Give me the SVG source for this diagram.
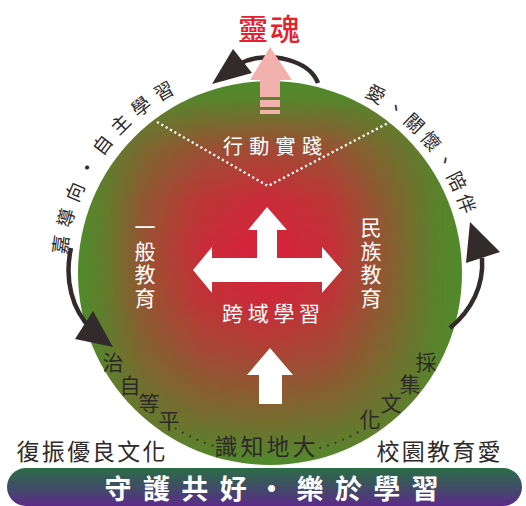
<svg xmlns="http://www.w3.org/2000/svg" width="526" height="506" viewBox="0 0 526 506">
<style>
text{font-family:"Noto Sans CJK TC","Noto Sans CJK SC",sans-serif;text-anchor:middle;dominant-baseline:central}
.w{fill:#fff;font-size:21px}
.d{fill:#2e2a2a;font-size:21px}
.arc{fill:#2e2a2a;font-size:19px}
.lbl{fill:#2e2a2a;font-size:23px}
.cv{fill:none;stroke:#332b2b;stroke-width:4.5}
.ah{fill:#332b2b}
.dots{fill:none;stroke:#333;stroke-width:2;stroke-linecap:round;stroke-dasharray:0.1 8}
.vdots{fill:none;stroke:#fff;stroke-width:2.3;stroke-dasharray:2.2 2.8}
</style>
<defs>
<linearGradient id="gh" gradientUnits="userSpaceOnUse" x1="78" y1="0" x2="462" y2="0">
<stop offset="0" stop-color="#fff" stop-opacity="0"/>
<stop offset="0.06" stop-color="#fff" stop-opacity="0.12"/>
<stop offset="0.176" stop-color="#fff" stop-opacity="0.55"/>
<stop offset="0.32" stop-color="#fff" stop-opacity="0.88"/>
<stop offset="0.49" stop-color="#fff" stop-opacity="1"/>
<stop offset="0.655" stop-color="#fff" stop-opacity="0.88"/>
<stop offset="0.772" stop-color="#fff" stop-opacity="0.55"/>
<stop offset="0.92" stop-color="#fff" stop-opacity="0.12"/>
<stop offset="1" stop-color="#fff" stop-opacity="0"/>
</linearGradient>
<linearGradient id="gv" gradientUnits="userSpaceOnUse" x1="0" y1="82" x2="0" y2="465">
<stop offset="0" stop-color="#fff" stop-opacity="0"/>
<stop offset="0.047" stop-color="#fff" stop-opacity="0.08"/>
<stop offset="0.177" stop-color="#fff" stop-opacity="0.62"/>
<stop offset="0.307" stop-color="#fff" stop-opacity="0.9"/>
<stop offset="0.44" stop-color="#fff" stop-opacity="1"/>
<stop offset="0.568" stop-color="#fff" stop-opacity="0.92"/>
<stop offset="0.698" stop-color="#fff" stop-opacity="0.7"/>
<stop offset="0.828" stop-color="#fff" stop-opacity="0.42"/>
<stop offset="0.958" stop-color="#fff" stop-opacity="0.1"/>
<stop offset="1" stop-color="#fff" stop-opacity="0"/>
</linearGradient>
<mask id="mh" maskUnits="userSpaceOnUse" x="0" y="0" width="526" height="506"><rect width="526" height="506" fill="url(#gh)"/></mask>
<mask id="mv" maskUnits="userSpaceOnUse" x="0" y="0" width="526" height="506"><rect width="526" height="506" fill="url(#gv)"/></mask>
<linearGradient id="band" x1="0" y1="0" x2="0" y2="1">
<stop offset="0" stop-color="#2b6d45"/>
<stop offset="0.5" stop-color="#3f4d66"/>
<stop offset="1" stop-color="#5c2b88"/>
</linearGradient>
</defs>

<g id="circle">
<circle cx="270" cy="273" r="192" fill="#4f8b2b"/>
<g mask="url(#mv)"><g mask="url(#mh)"><circle cx="270" cy="273" r="192" fill="#d9203b"/></g></g>
</g>

<g id="connectors">
<path class="vdots" d="M157,122 L268,186 L390,122"/>
<path class="dots" d="M175.7,428.5 A181,181 0 0 0 214.1,446.1"/>
<path class="dots" d="M320.2,447.9 A181,181 0 0 0 360.5,430.8"/>
<path class="cv" d="M318,83 C310,62 280,55 258,58 C250,59 245,61 240,64"/>
<polygon class="ah" points="212,84 233,49 252,73"/>
<path class="cv" d="M71,248 C64,280 72,310 92,330"/>
<polygon class="ah" points="113,347 93,311 75,339"/>
<path class="cv" d="M450,328 C472,310 484,285 482,258"/>
<polygon class="ah" points="470,222 466,263 500,252"/>
</g>

<g id="soul">
<polygon fill="#f2b1ad" points="270,47 292,80 280,80 280,97 260,97 260,80 250,80"/>
<rect x="260" y="100" width="20" height="7" fill="#f2b1ad"/>
<rect x="260" y="110" width="20" height="4" fill="#f2b1ad"/>
<text x="253 285" y="27" style="fill:#e5212d;font-size:30px;font-weight:500">靈魂</text>
</g>

<g id="action"><text class="w" x="233 259.3 285.6 312" y="145" style="font-size:20px">行動實踐</text></g>
<g id="general"><text class="w" x="145 145 145 145" y="226 249.5 273 296.5">一般教育</text></g>
<g id="ethnic"><text class="w" x="371 371 371 371" y="226 249.5 273 296.5">民族教育</text></g>

<g id="cross">
<polygon fill="#fff" points="267,207 287,230 277,230 277,258 322,258 322,247 342,270 322,293 322,282 212,282 212,293 193,270 212,247 212,258 257,258 257,230 248,230"/>
<text class="w" x="232.5 258.2 283.9 309.6" y="312">跨域學習</text>
</g>

<g id="up-arrow"><polygon fill="#fff" points="270,348 293,375 282,375 282,404 259,404 259,375 247,375"/></g>

<g id="left-arc">
<text class="arc" transform="translate(59.1,244.4) rotate(-82)">嘉</text>
<text class="arc" transform="translate(64.7,217.4) rotate(-74.6)">導</text>
<text class="arc" transform="translate(73.7,191.4) rotate(-67.2)">向</text>
<text class="arc" transform="translate(86,166.7) rotate(-59.8)">·</text>
<text class="arc" transform="translate(101.3,144) rotate(-52.4)">自</text>
<text class="arc" transform="translate(119.5,123.3) rotate(-45)">主</text>
<text class="arc" transform="translate(140.2,105.1) rotate(-37.5)">學</text>
<text class="arc" transform="translate(163.1,89.8) rotate(-30.1)">習</text>
</g>

<g id="right-arc">
<text class="arc" transform="translate(376.6,93.1) rotate(30.5)">愛</text>
<text class="arc" transform="translate(396.8,106.6) rotate(37.1)">、</text>
<text class="arc" transform="translate(415.2,122.3) rotate(43.8)">關</text>
<text class="arc" transform="translate(431.8,140.1) rotate(50.4)">懷</text>
<text class="arc" transform="translate(446.2,159.7) rotate(57)">、</text>
<text class="arc" transform="translate(458.2,180.8) rotate(63.7)">陪</text>
<text class="arc" transform="translate(467.7,203.2) rotate(70.3)">伴</text>
</g>

<g id="autonomy"><text class="d" x="113 130 149 169" y="361 384 402 419">治自等平</text></g>
<g id="knowledge"><text class="d" x="226 252 278 304" y="445 445 445 445" style="font-size:23px">識知地大</text></g>
<g id="culture"><text class="d" x="370 391 410 426" y="418 402 383 361">化文集採</text></g>

<g id="revive"><text class="lbl" x="28 53.2 78.4 103.6 128.8 154" y="450">復振優良文化</text></g>
<g id="campus"><text class="lbl" x="388 413.3 438.5 463.8 489" y="450">校園教育愛</text></g>

<g id="banner">
<rect x="7" y="468" width="515" height="38" rx="19" fill="url(#band)"/>
<text x="118 156.4 194.8 233.2 271.6 310 348.4 386.8 425" y="487.5" style="fill:#fff;font-size:27px;font-weight:700">守護共好·樂於學習</text>
</g>
</svg>
